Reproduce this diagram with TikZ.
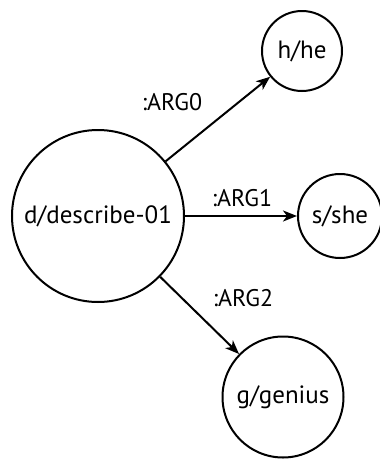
\documentclass[tikz,border=0pt]{standalone}
\usepackage{fontspec}
\setmainfont{PT Sans}
\usetikzlibrary{arrows.meta}
\begin{document}
\begin{tikzpicture}[x=1pt,y=-1pt,
  concept/.style={draw, circle, line width=2pt, inner sep=0pt, font=\fontsize{25}{30}\selectfont},
  rel/.style={line width=2pt, -{Stealth[length=14pt,width=11pt,inset=4pt]}},
  lbl/.style={font=\fontsize{24}{29}\selectfont, inner sep=0pt}]
\useasboundingbox (0,0) rectangle (380,459);
\node[concept, minimum size=172pt] (d) at (98,216) {d/describe-01};
\node[concept, minimum size=80pt] (h) at (302,51) {h/he};
\node[concept, minimum size=84pt] (s) at (340,216) {s/she};
\node[concept, minimum size=121pt] (g) at (283,397) {g/genius};
\draw[rel] (d) -- (h);
\draw[rel] (d) -- (s);
\draw[rel] (d) -- (g);
\node[lbl] (l0) at (172,102) {:ARG0};
\node[lbl] (l1) at (242,198) {:ARG1};
\node[lbl] (l2) at (243,298) {:ARG2};
\end{tikzpicture}
\end{document}
